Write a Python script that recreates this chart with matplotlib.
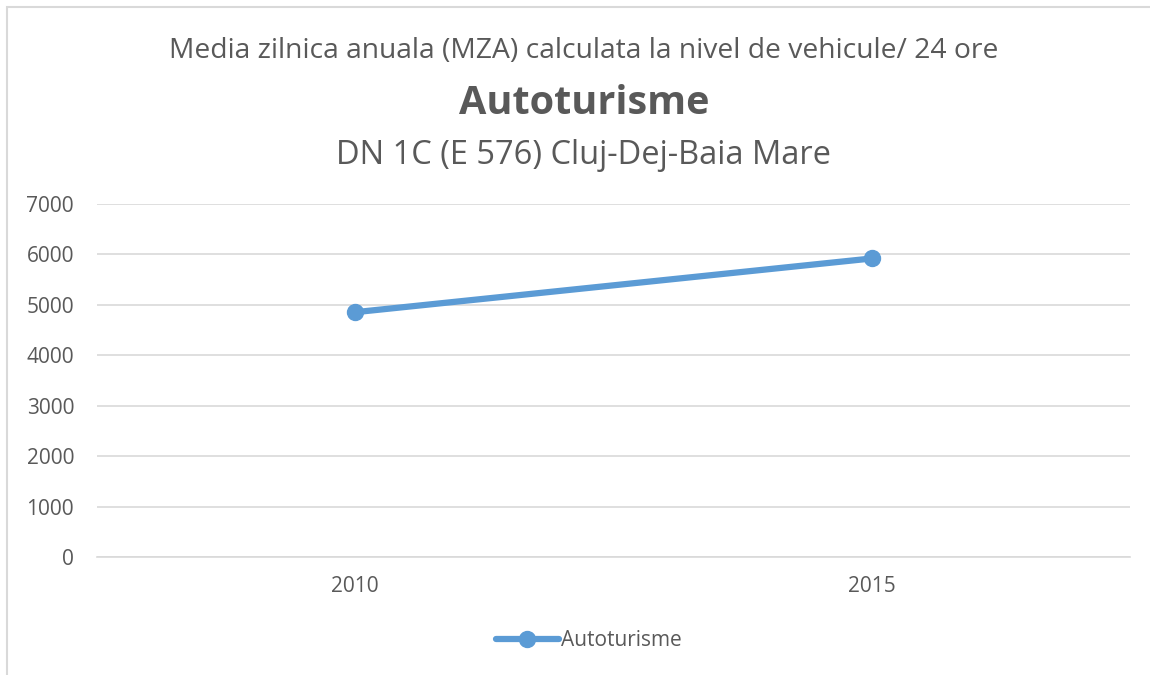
import matplotlib.pyplot as plt
from matplotlib.patches import Rectangle

# date
years = ['2010', '2015']
autoturisme = [4855, 5920]
y_ticks = [0, 1000, 2000, 3000, 4000, 5000, 6000, 7000]

plt.rcParams['font.family'] = ['Open Sans', 'DejaVu Sans']
text_col = '#595959'
blue = '#5B9BD5'

fig = plt.figure(figsize=(11.5, 6.75), dpi=100)
ax = fig.add_axes([97/1150, 1-557/675, (1130-97)/1150, (557-204)/675])

ax.plot(range(len(years)), autoturisme, color=blue, linewidth=4.5,
        marker='o', markersize=11.5, label='Autoturisme', solid_capstyle='round')

ax.set_xlim(-0.5, len(years)-0.5)
ax.set_ylim(0, 7000)
ax.set_yticks(y_ticks)
ax.set_xticks(range(len(years)))
ax.set_xticklabels(years)
ax.grid(axis='y', color='#d9d9d9', linewidth=1.2)
ax.set_axisbelow(True)
for s in ['top', 'right', 'left']:
    ax.spines[s].set_visible(False)
ax.spines['bottom'].set_color('#d9d9d9')
ax.spines['bottom'].set_linewidth(1.2)
ax.tick_params(length=0, colors=text_col, labelsize=15)
ax.tick_params(axis='y', pad=16.5)
ax.tick_params(axis='x', pad=14)

cx = 584/1150
fig.text(cx, 1-51/675, 'Media zilnica anuala (MZA) calculata la nivel de vehicule/ 24 ore',
         ha='center', va='center', fontsize=20.3, color=text_col)
fig.text(cx, 1-103/675, 'Autoturisme', ha='center', va='center',
         fontsize=28.5, fontweight='bold', color=text_col)
fig.text(cx, 1-156/675, 'DN 1C (E 576) Cluj-Dej-Baia Mare', ha='center', va='center',
         fontsize=23.5, color=text_col)

leg = ax.legend(loc='center', bbox_to_anchor=(0.476, (557-641)/(557-204)), frameon=False,
                fontsize=15, handlelength=3.0, handletextpad=0.1, labelcolor=text_col)

# chenarul graficului
fig.patches.append(Rectangle((7/1150, -0.1), 1.2, 1-7/675+0.1, transform=fig.transFigure,
                             fill=False, edgecolor='#d9d9d9', linewidth=1.5))

plt.savefig('out.png', dpi=100)
